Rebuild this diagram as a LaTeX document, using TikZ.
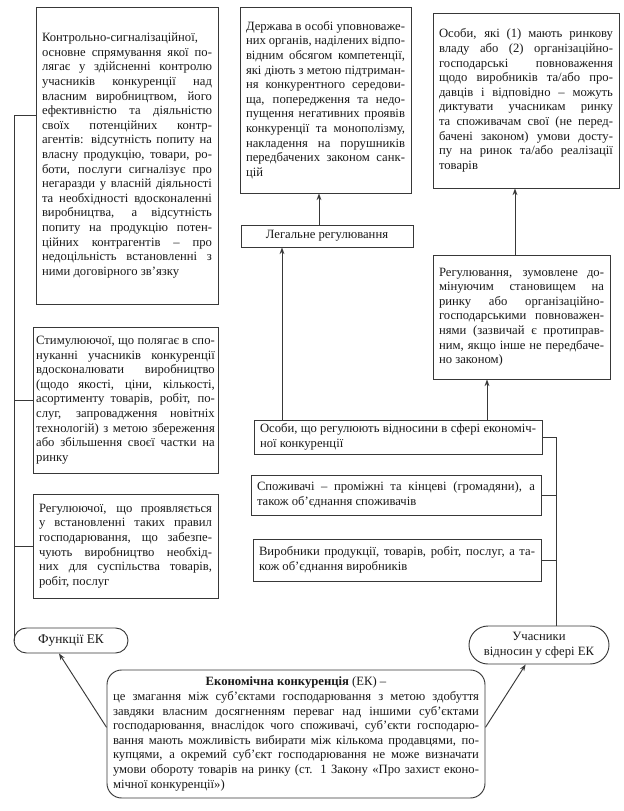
\documentclass[tikz,border=0pt]{standalone}
\usepackage{fontspec}
\setmainfont{Liberation Serif}
\usetikzlibrary{arrows.meta,shapes.misc}
\definecolor{lc}{gray}{0.22}
\definecolor{tc}{gray}{0.1}
\newcommand\Tx{\fontsize{9.5}{10.95}\selectfont\baselineskip=10.95pt\relax\tolerance=10000 \hyphenpenalty=10000 \emergencystretch=0pt\relax}
\begin{document}
\begin{tikzpicture}[x=0.75pt,y=-0.75pt,
  every node/.style={font=\fontsize{9.5}{10.95}\selectfont, text=tc},
  tbox/.style={draw=lc, line width=0.7pt, rectangle, align=justify, inner xsep=4.5pt, inner ysep=0pt},
  cbox/.style={draw=lc, line width=0.7pt, rectangle, align=center, inner sep=0pt},
  rbox/.style={draw=lc, line width=0.7pt, rounded rectangle, align=center, inner sep=0pt},
  conn/.style={draw=lc, line width=0.7pt},
  arr/.style={conn, -{Stealth[length=5pt,width=3.6pt]}}]
\fill[white] (0,0) rectangle (624,811);
\useasboundingbox (0,0) rectangle (624,811);

% left column
\node[tbox, minimum width=136.5pt, minimum height=222.75pt, text width=127.5pt] (A) at (127,155.5) {\Tx
Контрольно-сигналізаційної,\linebreak
основне спрямування якої по-\linebreak
лягає у здійсненні контролю\linebreak
учасників конкуренції над\linebreak
власним виробництвом, його\linebreak
ефективністю та діяльністю\linebreak
своїх потенційних контр-\linebreak
агентів: відсутність попиту на\linebreak
власну продукцію, товари, ро-\linebreak
боти, послуги сигналізує про\linebreak
негаразди у власній діяльності\linebreak
та необхідності вдосконаленні\linebreak
виробництва, а відсутність\linebreak
попиту на продукцію потен-\linebreak
ційних контрагентів – про\linebreak
недоцільність встановленні з\linebreak
ними договірного зв’язку};

\node[tbox, inner xsep=2.4pt, minimum width=138.75pt, minimum height=109.5pt, text width=134pt] (B) at (125.5,400) {\Tx
Стимулюючої, що полягає в спо-\linebreak
нуканні учасників конкуренції\linebreak
вдосконалювати виробництво\linebreak
(щодо якості, ціни, кількості,\linebreak
асортименту товарів, робіт, по-\linebreak
слуг, запровадження новітніх\linebreak
технологій) з метою збереження\linebreak
або збільшення своєї частки на\linebreak
ринку};

\node[tbox, minimum width=138.75pt, minimum height=78pt, text width=129.75pt] (C) at (125.5,546) {\Tx
Регулюючої, що проявляється\linebreak
у встановленні таких правил\linebreak
господарювання, що забезпе-\linebreak
чують виробництво необхід-\linebreak
них для суспільства товарів,\linebreak
робіт, послуг};

\node[rbox, minimum width=85.5pt, minimum height=18.75pt, font=\fontsize{10}{12}\selectfont] (Funk) at (71,640.5) {Функції ЕК};

% middle column
\node[tbox, minimum width=128.25pt, minimum height=139.5pt, text width=119.25pt] (D) at (325.5,100) {\Tx
Держава в особі уповноваже-\linebreak
них органів, наділених відпо-\linebreak
відним обсягом компетенції,\linebreak
які діють з метою підтриман-\linebreak
ня конкурентного середови-\linebreak
ща, попередження та недо-\linebreak
пущення негативних проявів\linebreak
конкуренції та монополізму,\linebreak
накладення на порушників\linebreak
передбачених законом санк-\linebreak
цій};

\node[cbox, minimum width=129pt, minimum height=16.5pt] (Legal) at (327,236) {Легальне регулювання};

% right column
\node[tbox, minimum width=139.5pt, minimum height=131.25pt, text width=130.5pt] (E) at (526,100.5) {\Tx
Особи, які (1) мають ринкову\linebreak
владу або (2) організаційно-\linebreak
господарські повноваження\linebreak
щодо виробників та/або про-\linebreak
давців і відповідно – можуть\linebreak
диктувати учасникам ринку\linebreak
та споживачам свої (не перед-\linebreak
бачені законом) умови досту-\linebreak
пу на ринок та/або реалізації\linebreak
товарів};

\node[tbox, minimum width=132.75pt, minimum height=93pt, text width=123.75pt] (F) at (521.5,317) {\Tx
Регулювання, зумовлене до-\linebreak
мінуючим становищем на\linebreak
ринку або організаційно-\linebreak
господарськими повноважен-\linebreak
нями (зазвичай є протиправ-\linebreak
ним, якщо інше не передбаче-\linebreak
но законом)};

% participants
\node[tbox, minimum width=216pt, minimum height=25.5pt, text width=207pt] (G) at (398,437) {\Tx
Особи, що регулюють відносини в сфері економіч-\linebreak
ної конкуренції};

\node[tbox, minimum width=217.5pt, minimum height=30pt, text width=208.5pt] (H) at (396,495) {\Tx
Споживачі – проміжні та кінцеві (громадяни), а\linebreak
також об’єднання споживачів};

\node[tbox, minimum width=216pt, minimum height=31.5pt, text width=207pt] (I) at (397,560) {\Tx
Виробники продукції, товарів, робіт, послуг, а та-\linebreak
кож об’єднання виробників};

\node[rbox, minimum width=105pt, minimum height=28.5pt, align=center] (Uch) at (539,645) {Учасники\\відносин у сфері ЕК};

% definition
\node[tbox, rounded corners=11pt, minimum width=283.5pt, minimum height=96pt, text width=274.5pt] (EK) at (296,734) {\Tx
\hspace*{\fill}\textbf{Економічна конкуренція} (ЕК) –\hspace*{\fill}\linebreak
це змагання між суб’єктами  господарювання з метою здобуття\linebreak
завдяки власним досягненням переваг над іншими суб’єктами\linebreak
господарювання, внаслідок чого споживачі, суб’єкти господарю-\linebreak
вання мають можливість вибирати між кількома продавцями, по-\linebreak
купцями, а окремий суб’єкт господарювання не може визначати\linebreak
умови обороту товарів на ринку (ст. 1 Закону «Про захист еконо-\linebreak
мічної конкуренції»)};

% left bracket connectors
\coordinate (lA) at (14,115);
\draw[conn] (lA) -- (lA -| A.west);
\draw[conn] (B.west) -- (B.west -| lA);
\draw[conn] (C.west) -- (C.west -| lA);
\draw[conn] (lA) -- (lA |- Funk.west);

% right bracket connectors
\coordinate (rx) at (556,437);
\draw[conn] (G.east) -- (G.east -| rx) -- (rx |- Uch.north);
\draw[conn] (H.east) -- (H.east -| rx);
\draw[conn] (I.east) -- (I.east -| rx);

% vertical arrows
\coordinate (xg) at (282,0);
\coordinate (xf) at (487,0);
\coordinate (xl) at (319,0);
\coordinate (xe) at (515,0);
\draw[arr] (G.north -| xg) -- (Legal.south -| xg);
\draw[arr] (G.north -| xf) -- (F.south -| xf);
\draw[arr] (Legal.north -| xl) -- (D.south -| xl);
\draw[arr] (F.north -| xe) -- (E.south -| xe);

% definition arrows
\draw[arr] ([yshift=5pt]EK.west) -- ([xshift=-9pt]Funk.south);
\draw[arr] ([yshift=5pt]EK.east) -- ([xshift=-10pt]Uch.south);
\end{tikzpicture}
\end{document}
